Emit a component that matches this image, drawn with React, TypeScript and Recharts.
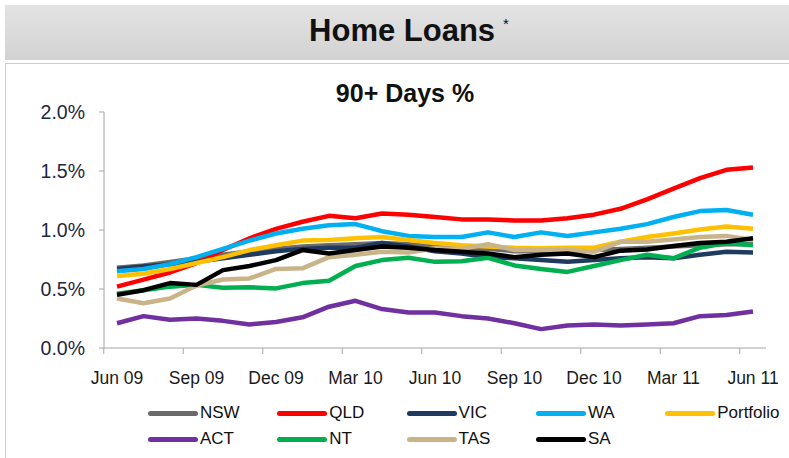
import { LineChart, Line, XAxis, YAxis } from "recharts";

const months = [
  "Jun 09", "Jul 09", "Aug 09", "Sep 09", "Oct 09", "Nov 09", "Dec 09",
  "Jan 10", "Feb 10", "Mar 10", "Apr 10", "May 10", "Jun 10", "Jul 10",
  "Aug 10", "Sep 10", "Oct 10", "Nov 10", "Dec 10", "Jan 11", "Feb 11",
  "Mar 11", "Apr 11", "May 11", "Jun 11",
];

// 90+ days arrears, % of balances
const nsw = [0.68, 0.7, 0.73, 0.76, 0.79, 0.82, 0.84, 0.86, 0.87, 0.88, 0.89, 0.88, 0.86, 0.85, 0.84, 0.82, 0.82, 0.82, 0.83, 0.84, 0.85, 0.86, 0.87, 0.88, 0.88];
const qld = [0.52, 0.58, 0.64, 0.72, 0.83, 0.93, 1.01, 1.07, 1.12, 1.1, 1.14, 1.13, 1.11, 1.09, 1.09, 1.08, 1.08, 1.1, 1.13, 1.18, 1.26, 1.35, 1.44, 1.51, 1.53];
const vic = [0.67, 0.69, 0.71, 0.73, 0.76, 0.79, 0.82, 0.84, 0.85, 0.85, 0.89, 0.86, 0.82, 0.8, 0.77, 0.76, 0.745, 0.73, 0.745, 0.76, 0.77, 0.76, 0.79, 0.815, 0.81];
const wa = [0.65, 0.67, 0.71, 0.77, 0.84, 0.91, 0.97, 1.01, 1.04, 1.05, 0.99, 0.95, 0.94, 0.94, 0.98, 0.94, 0.98, 0.95, 0.98, 1.01, 1.05, 1.11, 1.16, 1.17, 1.13];
const portfolio = [0.61, 0.63, 0.67, 0.72, 0.77, 0.83, 0.87, 0.91, 0.915, 0.93, 0.94, 0.915, 0.89, 0.87, 0.86, 0.85, 0.845, 0.85, 0.85, 0.9, 0.94, 0.97, 1.005, 1.03, 1.01];
const act = [0.21, 0.27, 0.24, 0.25, 0.23, 0.2, 0.22, 0.26, 0.35, 0.4, 0.33, 0.3, 0.3, 0.27, 0.25, 0.21, 0.16, 0.19, 0.2, 0.19, 0.2, 0.21, 0.27, 0.28, 0.31];
const nt = [0.46, 0.49, 0.52, 0.535, 0.51, 0.515, 0.505, 0.55, 0.57, 0.695, 0.745, 0.765, 0.73, 0.735, 0.765, 0.7, 0.67, 0.645, 0.695, 0.745, 0.79, 0.76, 0.85, 0.89, 0.87];
const tas = [0.42, 0.38, 0.42, 0.53, 0.58, 0.59, 0.67, 0.675, 0.77, 0.79, 0.815, 0.81, 0.845, 0.84, 0.88, 0.83, 0.83, 0.83, 0.815, 0.9, 0.9, 0.92, 0.94, 0.95, 0.915];
const sa = [0.45, 0.49, 0.55, 0.535, 0.66, 0.695, 0.745, 0.83, 0.8, 0.83, 0.86, 0.85, 0.83, 0.815, 0.8, 0.77, 0.79, 0.8, 0.77, 0.825, 0.835, 0.865, 0.89, 0.9, 0.93];

const yTicks = [0, 0.5, 1, 1.5, 2];

const series = [
  { key: "NSW", color: "#6b6b6b", values: nsw },
  { key: "QLD", color: "#ff0000", values: qld },
  { key: "VIC", color: "#1f3a5f", values: vic },
  { key: "WA", color: "#00b0f0", values: wa },
  { key: "Portfolio", color: "#ffc000", values: portfolio },
  { key: "ACT", color: "#7030a0", values: act },
  { key: "NT", color: "#00b050", values: nt },
  { key: "TAS", color: "#c9b48a", values: tas },
  { key: "SA", color: "#000000", values: sa },
];

const chartData = months.map((m, i) => {
  const row: Record<string, string | number> = { month: m };
  series.forEach((s) => {
    row[s.key] = s.values[i];
  });
  return row;
});

const FONT = "'Liberation Sans', Arial, sans-serif";
const AXIS_GREY = "#a6a6a6";
const HALF_STEP = 13.25; // half a category width, ticks sit between months

function MonthTick({ x, y, payload }: any) {
  return (
    <g>
      <line x1={x - HALF_STEP} x2={x - HALF_STEP} y1={y} y2={y + 6} stroke={AXIS_GREY} />
      <text x={x} y={y + 36} textAnchor="middle" fontSize={17.5} fill="#1a1a1a" fontFamily={FONT}>
        {payload.value}
      </text>
    </g>
  );
}

function LegendBlock() {
  return (
    <div style={{ position: "absolute", left: 148, top: 402, width: 640 }}>
      {series.map((s, i) => (
        <div
          key={s.key}
          style={{
            position: "absolute",
            left: (i % 5) * 129.3,
            top: Math.floor(i / 5) * 26,
            display: "flex",
            alignItems: "center",
            height: 22,
          }}
        >
          <div style={{ width: 50, height: 5, borderRadius: 3, background: s.color }} />
          <span style={{ marginLeft: 2, fontSize: 17, fontFamily: FONT, color: "#111" }}>{s.key}</span>
        </div>
      ))}
    </div>
  );
}

export default function App() {
  return (
    <div style={{ position: "absolute", left: 0, top: 0, width: 789, height: 458, background: "#fff", overflow: "hidden" }}>
      <div
        style={{
          position: "absolute",
          left: 5,
          top: 5,
          width: 784,
          height: 55,
          background: "linear-gradient(180deg, #e3e3e3 0%, #d2d2d2 100%)",
        }}
      />
      <div
        style={{
          position: "absolute",
          left: 0,
          top: 13,
          width: 818,
          textAlign: "center",
          fontFamily: FONT,
          fontWeight: "bold",
          fontSize: 31,
          color: "#111",
        }}
      >
        Home Loans<sup style={{ fontSize: 15, fontWeight: "normal", marginLeft: 8, verticalAlign: 12 }}>*</sup>
      </div>
      <div
        style={{
          position: "absolute",
          left: 5,
          top: 63,
          width: 800,
          height: 420,
          border: "1px solid #cfcfcf",
          boxSizing: "border-box",
        }}
      />
      <div
        style={{
          position: "absolute",
          left: 0,
          top: 79,
          width: 810,
          textAlign: "center",
          fontFamily: FONT,
          fontWeight: "bold",
          fontSize: 25,
          color: "#111",
        }}
      >
        90+ Days %
      </div>
      <div style={{ position: "absolute", left: 0, top: 0 }}>
        <LineChart width={789} height={458} data={chartData} margin={{ top: 112, right: 23, bottom: 80, left: 44 }}>
          <XAxis
            dataKey="month"
            interval={2}
            padding={{ left: 13, right: 13 }}
            tickSize={0}
            tickMargin={0}
            tickLine={false}
            height={30}
            stroke={AXIS_GREY}
            tick={<MonthTick />}
          />
          <YAxis
            domain={[0, 2]}
            ticks={yTicks}
            width={60}
            tickSize={5}
            tickMargin={14}
            stroke={AXIS_GREY}
            tick={{ fill: "#1f2740", fontSize: 19.5, fontFamily: FONT }}
            tickFormatter={(v: number) => v.toFixed(1) + "%"}
          />
          {series.map((s) => (
            <Line
              key={s.key}
              dataKey={s.key}
              stroke={s.color}
              strokeWidth={4.5}
              dot={false}
              type="linear"
              strokeLinejoin="round"
              isAnimationActive={false}
            />
          ))}
        </LineChart>
      </div>
      <LegendBlock />
    </div>
  );
}
